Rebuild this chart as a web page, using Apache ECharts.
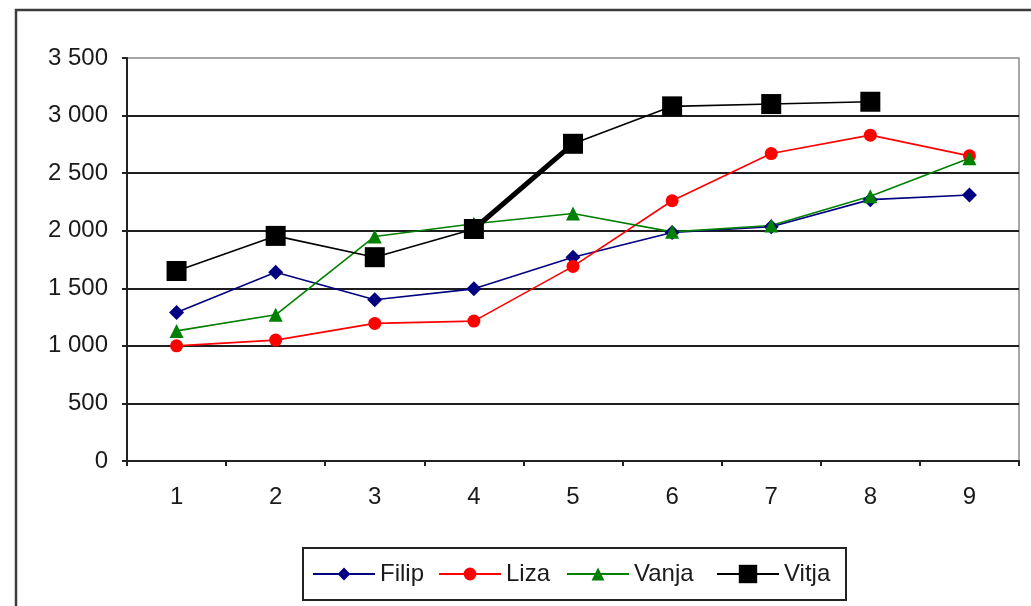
<!DOCTYPE html>
<html>
<head>
<meta charset="utf-8">
<script src="https://cdn.jsdelivr.net/npm/echarts@6/dist/echarts.min.js"></script>
<style>
  html, body { margin: 0; padding: 0; background: #fff; }
  #chart { width: 1031px; height: 606px; }
</style>
</head>
<body>
<div id="chart"></div>
<script>
// Categories along the x axis
const categories = ['1', '2', '3', '4', '5', '6', '7', '8', '9'];

// Values per person
const filip = [1290, 1640, 1400, 1495, 1770, 1985, 2035, 2270, 2310];
const liza  = [1000, 1050, 1195, 1215, 1690, 2260, 2670, 2830, 2650];
const vanja = [1130, 1270, 1950, 2060, 2150, 1990, 2045, 2300, 2630];
const vitja = [1650, 1955, 1770, 2015, 2755, 3080, 3100, 3120, null];

// Y axis range and step
const yMin = 0, yMax = 3500, yStep = 500;

const FONT = '"Liberation Sans", Arial, sans-serif';
const TEXT = '#1a1a1a';

// Vitja's steep rise between points 4 and 5 is drawn with a heavier stroke
const vitjaRise = vitja.map((v, i) => (i === 3 || i === 4) ? v : null);

function spaced(v) {
  return String(v).replace(/\B(?=(\d{3})+(?!\d))/g, ' ');
}

function lineSeries(name, data, color, symbol, size) {
  return {
    name, type: 'line', data,
    symbol, symbolSize: size,
    showAllSymbol: true,
    connectNulls: false,
    lineStyle: { color, width: 1.6 },
    itemStyle: { color, borderWidth: 0 },
    emphasis: { disabled: true },
    animation: false
  };
}

function legendFor(name, left, itemHeight) {
  return {
    data: [name],
    left, top: 562,
    padding: 0,
    itemWidth: 62, itemHeight,
    selectedMode: false,
    textStyle: { fontFamily: FONT, fontSize: 24, color: TEXT }
  };
}

const chart = echarts.init(document.getElementById('chart'), null, { renderer: 'canvas' });
chart.setOption({
  backgroundColor: '#fff',
  animation: false,
  grid: {
    left: 127, right: 12, top: 58, bottom: 145,
    show: true, borderColor: '#8a8a8a', borderWidth: 1.5
  },
  legend: [
    legendFor('Filip', 312, 16),
    legendFor('Liza', 438, 16),
    legendFor('Vanja', 566, 16),
    legendFor('Vitja', 716, 23)
  ],
  graphic: [
    // outer chart frame
    { type: 'rect', silent: true, z: 0,
      shape: { x: 16, y: 10, width: 1100, height: 700 },
      style: { fill: 'none', stroke: '#3c3c3c', lineWidth: 2.5 } },
    // legend frame
    { type: 'rect', silent: true, z: 0,
      shape: { x: 303, y: 548, width: 543, height: 52 },
      style: { fill: 'none', stroke: '#222', lineWidth: 2 } }
  ],
  xAxis: {
    type: 'category',
    data: categories,
    boundaryGap: true,
    axisLine: { lineStyle: { color: '#222', width: 2 } },
    axisTick: { show: true, alignWithLabel: false, length: 5, lineStyle: { color: '#222', width: 2 } },
    axisLabel: { margin: 24, fontFamily: FONT, fontSize: 24, color: TEXT },
    splitLine: { show: false }
  },
  yAxis: {
    type: 'value',
    min: yMin, max: yMax, interval: yStep,
    axisLine: { show: true, lineStyle: { color: '#222', width: 2 } },
    axisTick: { show: true, length: 5, lineStyle: { color: '#222', width: 2 } },
    axisLabel: { margin: 19, fontFamily: FONT, fontSize: 24, color: TEXT, formatter: spaced },
    splitLine: { show: true, showMaxLine: false, lineStyle: { color: '#1e1e1e', width: 2 } }
  },
  series: [
    lineSeries('Filip', filip, '#000080', 'diamond', 15),
    lineSeries('Liza', liza, '#ff0000', 'circle', 13),
    lineSeries('Vanja', vanja, '#008000', 'triangle', 14),
    {
      name: 'Vitja rise', type: 'line', data: vitjaRise,
      symbol: 'none', connectNulls: false,
      lineStyle: { color: '#000', width: 5 },
      emphasis: { disabled: true },
      animation: false
    },
    lineSeries('Vitja', vitja, '#000000', 'rect', 20)
  ]
});
</script>
</body>
</html>
